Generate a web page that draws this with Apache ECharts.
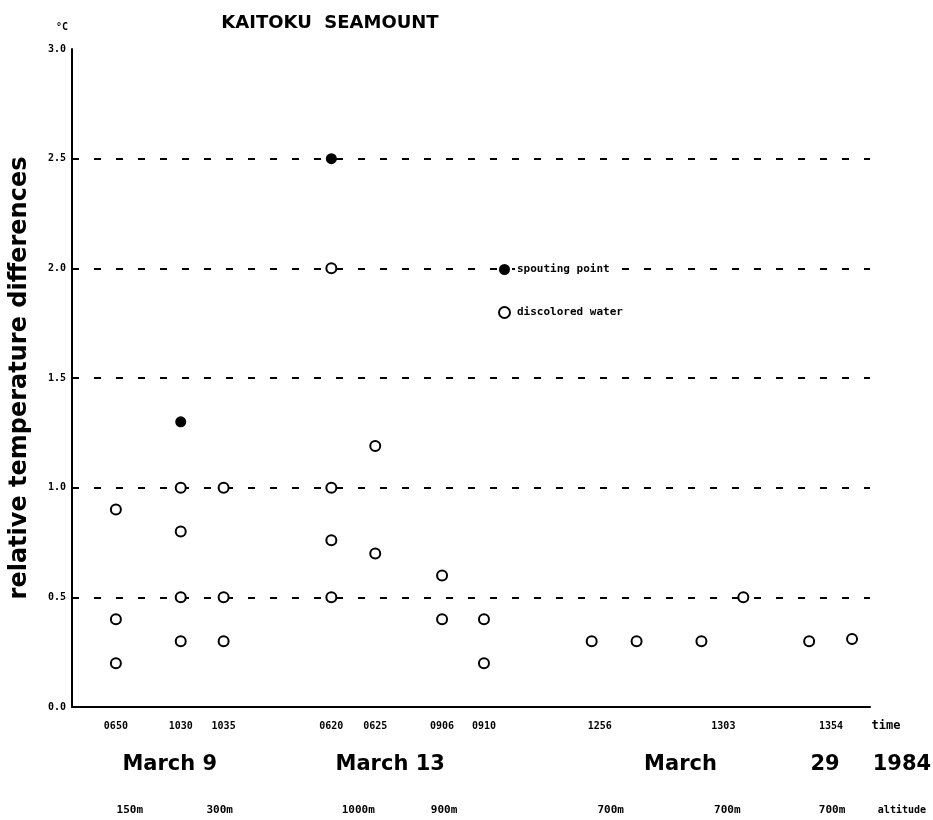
<!DOCTYPE html>
<html><head><meta charset="utf-8">
<script src="https://cdn.jsdelivr.net/npm/echarts@6/dist/echarts.min.js"></script>
<style>html,body{margin:0;padding:0;background:#fff}#c{width:933px;height:820px}</style>
</head><body><div id="c"></div>
<script>
// horizontal position of each sample along the time strip (arbitrary units)
const samplePos = [4.4, 10.9, 15.2, 26.0, 30.4, 37.1, 41.3, 52.1, 56.6, 63.1, 67.3, 73.9, 78.2];
// discolored water values per sample (°C)
const discoloredWater = [
  [0.9, 0.4, 0.2],
  [1.0, 0.8, 0.5, 0.3],
  [1.0, 0.5, 0.3],
  [2.0, 1.0, 0.76, 0.5],
  [1.19, 0.7],
  [0.6, 0.4],
  [0.4, 0.2],
  [0.3],
  [0.3],
  [0.3],
  [0.5],
  [0.3],
  [0.31]
];
// spouting point: sample index and value
const spoutingSample = [1, 3];
const spoutingValue = [1.3, 2.5];

const timeLabels = ['0650', '1030', '1035', '0620', '0625', '0906', '0910', '1256', '1303', '1354'];
const timeLabelPos = [4.4, 10.9, 15.2, 26.0, 30.4, 37.1, 41.3, 52.9, 65.3, 76.1];
const dateLabels = ['March 9', 'March 13', 'March', '29', '1984'];
const dateLabelPos = [9.8, 31.9, 61.0, 75.5, 83.2];
const altitudeLabels = ['150m', '300m', '1000m', '900m', '700m', '700m', '700m'];
const altitudeLabelPos = [5.8, 14.8, 28.7, 37.3, 54.0, 65.7, 76.2];

const chart = echarts.init(document.getElementById('c'));
const discData = [];
discoloredWater.forEach((vals, i) => vals.forEach(v => discData.push([samplePos[i], v])));
const spoutData = spoutingSample.map((s, i) => [samplePos[s], spoutingValue[i]]);

const mono = '"DejaVu Sans Mono", monospace';
const sans = '"DejaVu Sans", sans-serif';

chart.setOption({
  animation: false,
  backgroundColor: '#fff',
  grid: { left: 70, right: 63, top: 49, bottom: 113, containLabel: false },
  title: {
    text: 'KAITOKU  SEAMOUNT', left: 325, top: 9, textAlign: 'center',
    textStyle: { fontFamily: sans, fontWeight: 'bold', fontSize: 18, color: '#000' }
  },
  legend: {
    orient: 'vertical', left: 493, top: 257, padding: 5, itemGap: 28, itemWidth: 11, itemHeight: 11,
    textStyle: { fontFamily: mono, fontWeight: 'bold', fontSize: 11, color: '#000', backgroundColor: '#fff', padding: [2, 4, 2, 2] },
    data: [
      { name: 'spouting point', icon: 'circle', itemStyle: { color: '#000', opacity: 1 } },
      { name: 'discolored water', icon: 'emptyCircle', itemStyle: { color: '#000', borderColor: '#000', borderWidth: 2, opacity: 1 } }
    ]
  },
  xAxis: {
    type: 'value', min: 0, max: 80,
    axisLine: { show: true, lineStyle: { color: '#000', width: 2 } },
    axisTick: { show: false },
    splitLine: { show: false },
    axisLabel: {
      customValues: timeLabelPos,
      margin: 14,
      fontFamily: mono, fontWeight: 'bold', fontSize: 10, color: '#000',
      formatter: v => {
        const i = timeLabelPos.findIndex(p => Math.abs(p - v) < 1e-6);
        return i >= 0 ? timeLabels[i] : '';
      }
    }
  },
  yAxis: {
    type: 'value', min: 0, max: 3, interval: 0.5,
    name: 'relative temperature differences', nameLocation: 'middle', nameGap: 40,
    nameTextStyle: { fontFamily: sans, fontWeight: 'bold', fontSize: 24, color: '#000' },
    axisLine: { show: true, lineStyle: { color: '#000', width: 2 } },
    axisTick: { show: false },
    axisLabel: { margin: 6, fontFamily: mono, fontWeight: 'bold', fontSize: 10, color: '#000', formatter: v => v.toFixed(1) },
    splitLine: { show: true, showMinLine: false, showMaxLine: false, lineStyle: { color: '#000', width: 2, type: [7, 15] } }
  },
  series: [
    {
      name: 'spouting point', type: 'scatter', symbol: 'circle', symbolSize: 11,
      itemStyle: { color: '#000', opacity: 1 }, data: spoutData, z: 3
    },
    {
      name: 'discolored water', type: 'scatter', symbol: 'circle', symbolSize: 10,
      itemStyle: { color: '#fff', borderColor: '#000', borderWidth: 2, opacity: 1 }, data: discData, z: 3
    }
  ]
});

function px(v) { return chart.convertToPixel({ xAxisIndex: 0 }, v); }
const g = [];
g.push({ type: 'text', left: 56, top: 22, style: { text: '°C', font: 'bold 10px ' + mono, fill: '#000' } });
g.push({ type: 'text', x: px(81.6), y: 726, style: { text: 'time', font: 'bold 12px ' + mono, fill: '#000', textAlign: 'center', textVerticalAlign: 'middle' } });
dateLabels.forEach((t, i) => g.push({ type: 'text', x: px(dateLabelPos[i]), y: 765, style: { text: t, font: 'bold 21px ' + sans, fill: '#000', textAlign: 'center', textVerticalAlign: 'middle' } }));
altitudeLabels.forEach((t, i) => g.push({ type: 'text', x: px(altitudeLabelPos[i]), y: 810, style: { text: t, font: 'bold 11px ' + mono, fill: '#000', textAlign: 'center', textVerticalAlign: 'middle' } }));
g.push({ type: 'text', x: px(83.2), y: 810, style: { text: 'altitude', font: 'bold 10px ' + mono, fill: '#000', textAlign: 'center', textVerticalAlign: 'middle' } });
chart.setOption({ graphic: g });
</script></body></html>
